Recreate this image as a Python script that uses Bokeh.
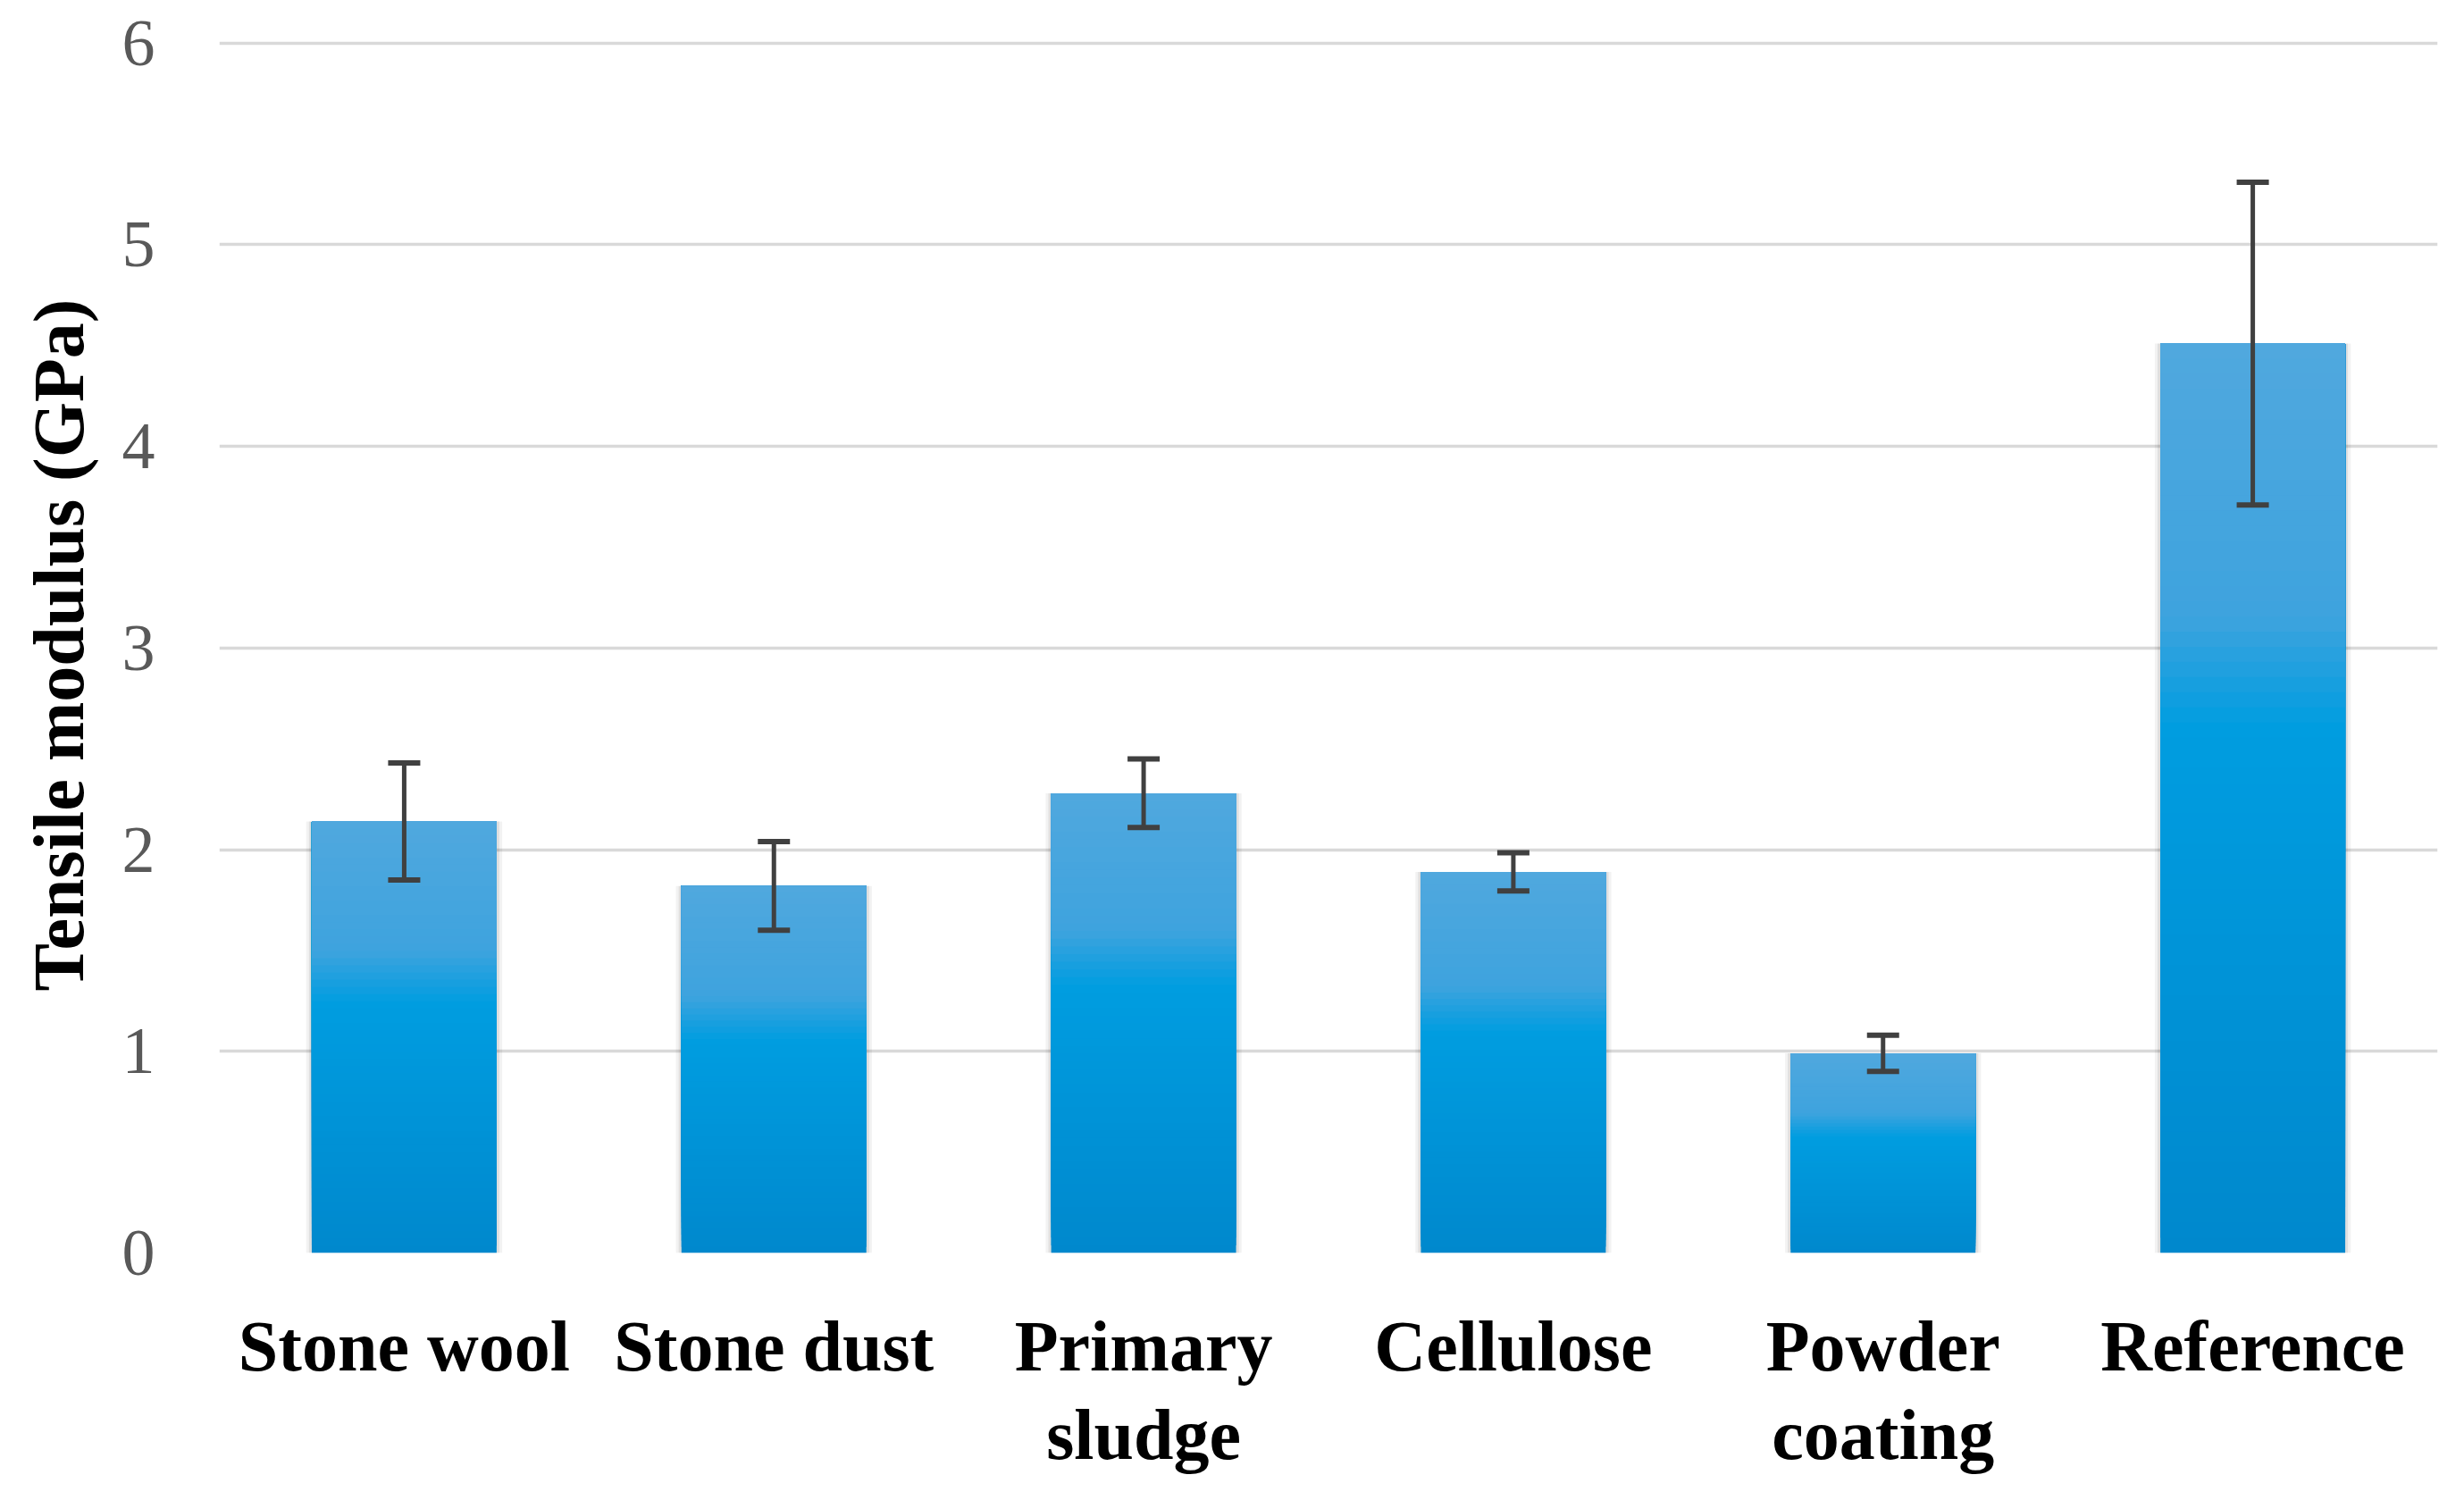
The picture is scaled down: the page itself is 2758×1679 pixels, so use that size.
from bokeh.plotting import figure
from bokeh.models import ColumnDataSource, FactorRange, Whisker, TeeHead, FixedTicker, CategoricalAxis
from bokeh.embed import file_html
from bokeh.resources import INLINE

# ---- data ----
categories = ["Stone wool", "Stone dust", "Primary sludge", "Cellulose", "Powder coating", "Reference"]
tick_labels = ["Stone wool", "Stone dust", "Primary\nsludge", "Cellulose", "Powder\ncoating", "Reference"]
modulus = [2.14, 1.82, 2.28, 1.89, 0.99, 4.51]
error = [0.29, 0.22, 0.17, 0.095, 0.09, 0.80]
y_ticks = [0, 1, 2, 3, 4, 5, 6]

SERIF = "Liberation Serif"

W, H = 2742, 1663
Y_TOP = 6.03
TOP_BORDER = 41
FRAME_H = 1361
LEFT_BORDER = 245
FRAME_W = 2483
p = figure(x_range=FactorRange(factors=categories), y_range=(0, Y_TOP),
           width=W, height=H, output_backend="svg", toolbar_location=None,
           min_border_left=LEFT_BORDER, min_border_right=W - LEFT_BORDER - FRAME_W,
           min_border_top=TOP_BORDER, min_border_bottom=H - TOP_BORDER - FRAME_H)
p.outline_line_color = None
p.background_fill_color = "white"

# gradient: top light -> bottom darker
stops = [(0.0, (80, 168, 222)), (0.30, (62, 163, 222)), (0.42, (0, 157, 224)), (1.0, (0, 136, 205))]
def grad(t):
    for (t0, c0), (t1, c1) in zip(stops[:-1], stops[1:]):
        if t0 <= t <= t1:
            f = (t - t0) / (t1 - t0) if t1 > t0 else 0
            return "#%02x%02x%02x" % tuple(int(round(a + (b - a) * f)) for a, b in zip(c0, c1))
    return "#%02x%02x%02x" % stops[-1][1]

# faint shadow
sh = ColumnDataSource(dict(x=categories, top=modulus))
p.vbar(x="x", top="top", bottom=0, width=0.53, source=sh,
       fill_color="#000000", fill_alpha=0.05, line_color=None)
p.vbar(x="x", top="top", bottom=0, width=0.515, source=sh,
       fill_color="#000000", fill_alpha=0.08, line_color=None)

# nested bands: darkest (full height) first, lighter shorter bands on top
N = 60
bx, bb, bt, bc = [], [], [], []
for k in range(N - 1, -1, -1):
    t = (k + 0.5) / N
    for cat, v in zip(categories, modulus):
        bx.append(cat)
        bb.append(v * (1 - (k + 1) / N))
        bt.append(v)
        bc.append(grad(t))
bands = ColumnDataSource(dict(x=bx, bottom=bb, top=bt, color=bc))
p.vbar(x="x", bottom="bottom", top="top", width=0.5, source=bands,
       fill_color="color", line_color=None)

# error bars
err = ColumnDataSource(dict(x=categories,
                            upper=[m + e for m, e in zip(modulus, error)],
                            lower=[m - e for m, e in zip(modulus, error)]))
wk = Whisker(base="x", upper="upper", lower="lower", source=err, level="overlay",
             line_color="#404040", line_width=5,
             upper_head=TeeHead(size=36, line_color="#404040", line_width=6),
             lower_head=TeeHead(size=36, line_color="#404040", line_width=6))
p.add_layout(wk)

# grid
p.xgrid.grid_line_color = None
p.ygrid.grid_line_color = "#d9d9d9"
p.ygrid.grid_line_width = 3.5
p.yaxis.ticker = FixedTicker(ticks=y_ticks)

# y axis
p.yaxis.axis_line_color = None
p.yaxis.major_tick_line_color = None
p.yaxis.minor_tick_line_color = None
p.yaxis.major_tick_out = 0
p.yaxis.major_label_text_font = SERIF
p.yaxis.major_label_text_font_size = "74px"
p.yaxis.major_label_text_color = "#595959"
p.yaxis.major_label_standoff = 72
p.yaxis.axis_label = "Tensile modulus (GPa)"
p.yaxis.axis_label_text_font = SERIF
p.yaxis.axis_label_text_font_style = "bold"
p.yaxis.axis_label_text_font_size = "80px"
p.yaxis.axis_label_text_color = "#000000"
p.yaxis.axis_label_standoff = 24

# x axis: two stacked categorical axes, one per label line
p.xaxis.visible = False
line1 = [t.split("\n")[0] for t in tick_labels]
line2 = [t.split("\n")[1] if "\n" in t else " " * (i + 1) for i, t in enumerate(tick_labels)]
p.extra_x_ranges = {"line1": FactorRange(factors=line1), "line2": FactorRange(factors=line2)}

def make_x(range_name, standoff):
    ax = CategoricalAxis(x_range_name=range_name)
    ax.axis_line_color = None
    ax.major_tick_line_color = None
    ax.minor_tick_line_color = None
    ax.major_tick_out = 0
    ax.major_tick_in = 0
    ax.major_label_text_font = SERIF
    ax.major_label_text_font_style = "bold"
    ax.major_label_text_font_size = "80px"
    ax.major_label_text_color = "#000000"
    ax.major_label_standoff = standoff
    p.add_layout(ax, "below")
    return ax

make_x("line1", 60)
make_x("line2", 8)

open("out.html", "w").write(file_html(p, INLINE))
